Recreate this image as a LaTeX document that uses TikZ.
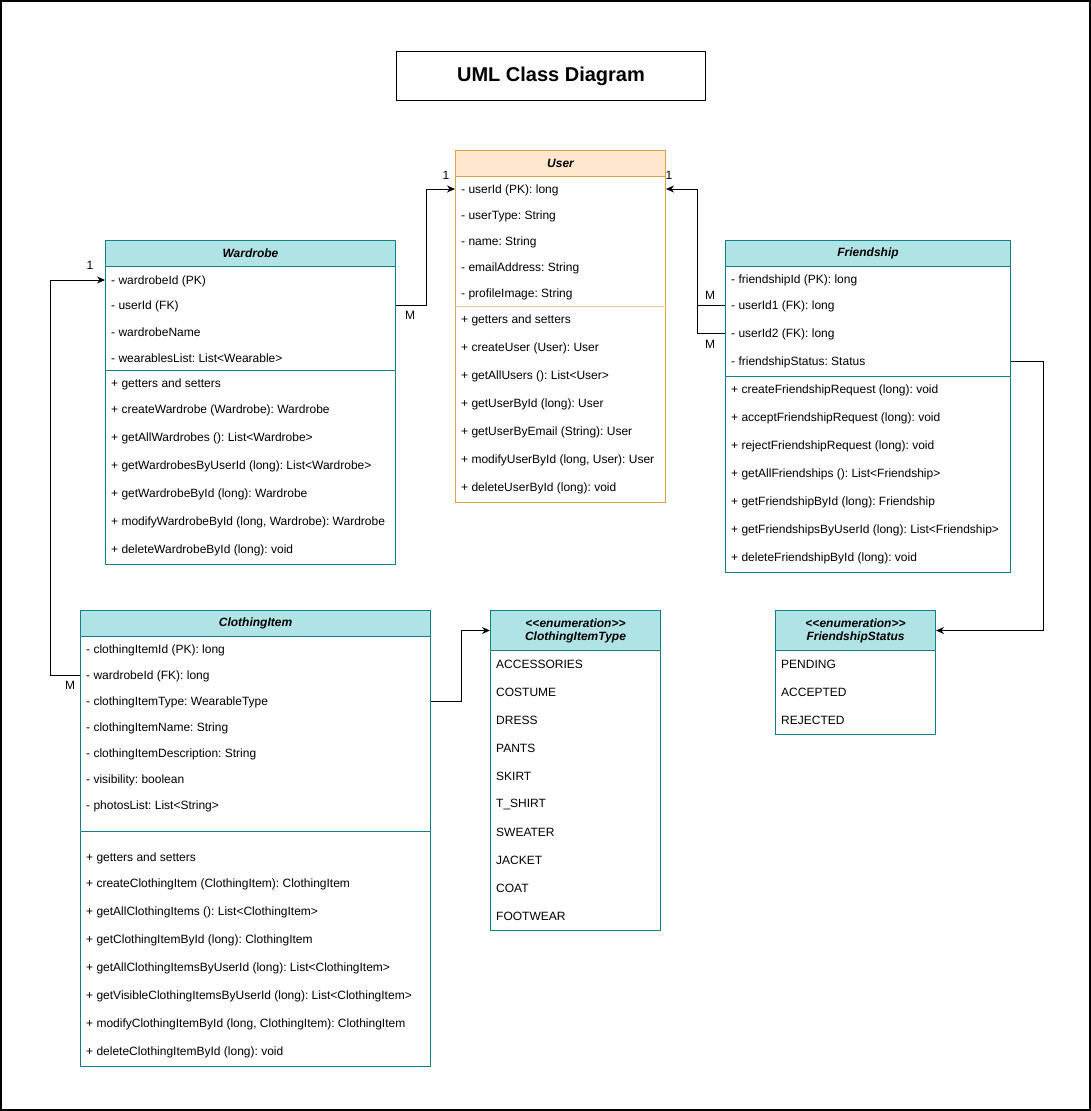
\documentclass[tikz,border=0pt]{standalone}
\usepackage{fontspec}
\setmainfont{Liberation Sans}
\frenchspacing
\usetikzlibrary{arrows.meta}
\definecolor{tealfill}{HTML}{B0E3E6}
\definecolor{tealline}{HTML}{0E8088}
\definecolor{orangefill}{HTML}{FFE6CC}
\definecolor{orangeline}{HTML}{D9A441}
\definecolor{orangesep}{HTML}{F2C9A0}
\tikzset{
  boxT/.style={draw=tealline, fill=white, line width=1pt, rectangle, anchor=north west, inner sep=0pt},
  hdrT/.style={draw=tealline, fill=tealfill, line width=1pt, rectangle, anchor=north west, inner sep=0pt, font=\fontsize{12}{14}\selectfont\bfseries\itshape, align=center},
  boxO/.style={draw=orangeline, fill=white, line width=1pt, rectangle, anchor=north west, inner sep=0pt},
  hdrO/.style={draw=orangeline, fill=orangefill, line width=1pt, rectangle, anchor=north west, inner sep=0pt, font=\fontsize{12}{14}\selectfont\bfseries\itshape},
  row/.style={anchor=west, inner sep=0pt, font=\fontsize{12}{14}\selectfont},
  lbl/.style={inner sep=0pt, font=\fontsize{12}{14}\selectfont},
  conn/.style={draw=black, line width=1pt, -{Stealth[length=8pt,width=7pt]}},
  plain/.style={draw=black, line width=1pt},
}
\begin{document}
\begin{tikzpicture}[x=1pt,y=-1pt]
\useasboundingbox (0,0) rectangle (1091,1111);
\draw[line width=1.6pt] (0.8,0.8) rectangle (1090.2,1110.2);

% title
\node[draw=black, line width=1pt, anchor=north west, minimum width=309pt, minimum height=49pt, inner sep=0pt, font=\fontsize{20}{24}\selectfont\bfseries] (title) at (396,51) {UML Class Diagram};

% ---------------- User ----------------
\node[boxO, minimum width=210pt, minimum height=352pt] (user) at (455,150) {};
\node[hdrO, minimum width=210pt, minimum height=26pt] (userH) at (455,150) {User};
\draw[orangesep, line width=1pt] (user.west |- 0,306) -- (user.east |- 0,306);
\foreach \y/\t in {190/{- userId (PK): long},216/{- userType: String},242/{- name: String},268/{- emailAddress: String},294/{- profileImage: String},
  320/{+ getters and setters},348/{+ createUser (User): User},376/{+ getAllUsers (): List<User>},404/{+ getUserById (long): User},432/{+ getUserByEmail (String): User},460/{+ modifyUserById (long, User): User},488/{+ deleteUserById (long): void}}
  \node[row] (ua\y) at (461,\y) {\t};

% ---------------- Wardrobe ----------------
\node[boxT, minimum width=290pt, minimum height=324pt] (wardrobe) at (105,240) {};
\node[hdrT, minimum width=290pt, minimum height=26pt] (wardrobeH) at (105,240) {Wardrobe};
\draw[tealline, line width=1pt] (wardrobe.west |- 0,370) -- (wardrobe.east |- 0,370);
\foreach \y/\t in {281/{- wardrobeId (PK)},306/{- userId (FK)},332/{- wardrobeName},358/{- wearablesList: List<Wearable>},
  384/{+ getters and setters},410/{+ createWardrobe (Wardrobe): Wardrobe},438/{+ getAllWardrobes (): List<Wardrobe>},466/{+ getWardrobesByUserId (long): List<Wardrobe>},494/{+ getWardrobeById (long): Wardrobe},522/{+ modifyWardrobeById (long, Wardrobe): Wardrobe},550/{+ deleteWardrobeById (long): void}}
  \node[row] (wa\y) at (111,\y) {\t};

% ---------------- Friendship ----------------
\node[boxT, minimum width=285pt, minimum height=332pt] (friendship) at (725,240) {};
\node[hdrT, minimum width=285pt, minimum height=26pt] (friendshipH) at (725,240) {Friendship};
\draw[tealline, line width=1pt] (friendship.west |- 0,376) -- (friendship.east |- 0,376);
\foreach \y/\t in {280/{- friendshipId (PK): long},306/{- userId1 (FK): long},334/{- userId2 (FK): long},362/{- friendshipStatus: Status},
  390/{+ createFriendshipRequest (long): void},418/{+ acceptFriendshipRequest (long): void},446/{+ rejectFriendshipRequest (long): void},474/{+ getAllFriendships (): List<Friendship>},502/{+ getFriendshipById (long): Friendship},530/{+ getFriendshipsByUserId (long): List<Friendship>},558/{+ deleteFriendshipById (long): void}}
  \node[row] (fa\y) at (731,\y) {\t};

% ---------------- ClothingItem ----------------
\node[boxT, minimum width=350pt, minimum height=456pt] (clothing) at (80,610) {};
\node[hdrT, minimum width=350pt, minimum height=26pt] (clothingH) at (80,610) {ClothingItem};
\draw[tealline, line width=1pt] (clothing.west |- 0,831) -- (clothing.east |- 0,831);
\foreach \y/\t in {650/{- clothingItemId (PK): long},676/{- wardrobeId (FK): long},702/{- clothingItemType: WearableType},728/{- clothingItemName: String},754/{- clothingItemDescription: String},780/{- visibility: boolean},806/{- photosList: List<String>},
  858/{+ getters and setters},884/{+ createClothingItem (ClothingItem): ClothingItem},912/{+ getAllClothingItems (): List<ClothingItem>},940/{+ getClothingItemById (long): ClothingItem},968/{+ getAllClothingItemsByUserId (long): List<ClothingItem>},996/{+ getVisibleClothingItemsByUserId (long): List<ClothingItem>},1024/{+ modifyClothingItemById (long, ClothingItem): ClothingItem},1052/{+ deleteClothingItemById (long): void}}
  \node[row] (ca\y) at (86,\y) {\t};

% ---------------- ClothingItemType ----------------
\node[boxT, minimum width=170pt, minimum height=320pt] (ctype) at (490,610) {};
\node[hdrT, minimum width=170pt, minimum height=40pt] (ctypeH) at (490,610) {{<}{<}enumeration{>}{>}\\[-1pt]ClothingItemType};
\foreach \y/\t in {664/ACCESSORIES,692/COSTUME,720/DRESS,748/PANTS,776/SKIRT,804/T\_SHIRT,832/SWEATER,860/JACKET,888/COAT,916/FOOTWEAR}
  \node[row] (ta\y) at (496,\y) {\t};

% ---------------- FriendshipStatus ----------------
\node[boxT, minimum width=160pt, minimum height=124pt] (fstatus) at (775,610) {};
\node[hdrT, minimum width=160pt, minimum height=40pt] (fstatusH) at (775,610) {{<}{<}enumeration{>}{>}\\[-1pt]FriendshipStatus};
\foreach \y/\t in {664/PENDING,692/ACCEPTED,720/REJECTED}
  \node[row] (sa\y) at (781,\y) {\t};

% ---------------- connectors ----------------
\draw[conn] (wardrobe.east |- 0,305) -- ++(30,0) |- (user.west |- 0,189);
\node[lbl] (lm1) at (410,315) {M};
\node[lbl] (l11) at (446,175) {1};

\draw[conn] (friendship.west |- 0,305) -- ++(-28,0) |- (user.east |- 0,189);
\draw[plain] (friendship.west |- 0,333) -- ++(-28,0) -- ++(0,-28);
\node[lbl] (lm2) at (710,295) {M};
\node[lbl] (lm3) at (710,344) {M};
\node[lbl] (l12) at (669,175) {1};

\draw[conn] (clothing.west |- 0,675) -- ++(-30,0) |- (wardrobe.west |- 0,280);
\node[lbl] (l13) at (90,265) {1};
\node[lbl] (lm4) at (70,685) {M};

\draw[conn] (clothing.east |- 0,701) -- ++(30,0) |- (ctypeH.west);
\draw[conn] (friendship.east |- 0,361) -- ++(32,0) |- (fstatusH.east);
\end{tikzpicture}
\end{document}
